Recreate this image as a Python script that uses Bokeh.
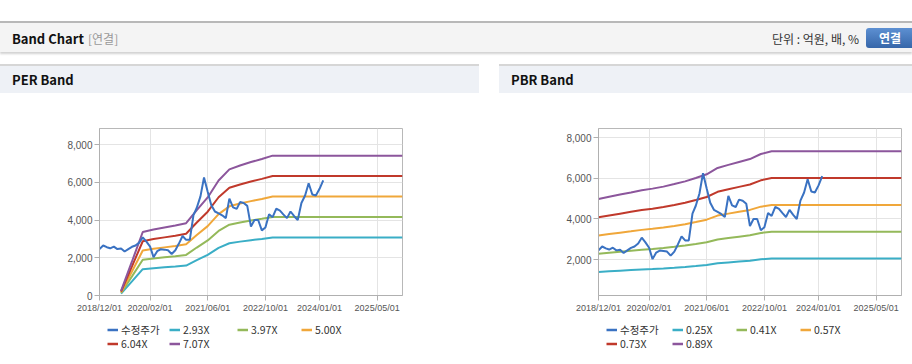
import pandas as pd
from bokeh.plotting import figure
from bokeh.models import (Range1d, FixedTicker, DatetimeTickFormatter, NumeralTickFormatter,
                          Legend, LegendItem, Label, Div)
from bokeh.layouts import column, row
from bokeh.embed import file_html
from bokeh.resources import INLINE

# ---------------- data ----------------
price_dates = pd.date_range("2018-12-01", periods=63, freq="MS")
price = [2457, 2650, 2560, 2500, 2590, 2460, 2490, 2330, 2460, 2580,
         2650, 2800, 3080, 2850, 2590, 2030, 2350, 2450, 2430, 2400,
         2200, 2400, 2750, 3150, 2950, 2950, 4260, 4650, 5250, 6250,
         5500, 4800, 4450, 4350, 4250, 4100, 5130, 4670, 4590, 4950,
         4900, 4750, 3650, 4000, 4000, 3450, 3600, 4300, 4150, 4600,
         4500, 4300, 4100, 4450, 4200, 4000, 4900, 5300, 5950, 5350,
         5300, 5650, 6100]

per_dates = ["2019-06-01", "2019-09-01", "2019-12-01", "2020-03-01", "2020-06-01",
             "2020-09-01", "2020-12-01", "2021-03-01", "2021-06-01", "2021-09-01",
             "2021-12-01", "2022-03-01", "2022-06-01", "2022-09-01", "2022-12-01",
             "2025-12-01"]
per_labels = ["2.93X", "3.97X", "5.00X", "6.04X", "7.07X"]
per_band_1 = [103, 747, 1395, 1450, 1494, 1538, 1588, 1875, 2154, 2526, 2769, 2854, 2930, 2997, 3071, 3071]
per_band_2 = [139, 1012, 1890, 1965, 2025, 2084, 2152, 2541, 2918, 3422, 3752, 3867, 3970, 4061, 4161, 4161]
per_band_3 = [175, 1275, 2380, 2475, 2550, 2625, 2710, 3200, 3675, 4310, 4725, 4870, 5000, 5115, 5240, 5240]
per_band_4 = [211, 1540, 2875, 2990, 3080, 3171, 3274, 3866, 4439, 5206, 5708, 5883, 6040, 6179, 6330, 6330]
per_band_5 = [247, 1803, 3365, 3500, 3606, 3712, 3832, 4525, 5196, 6094, 6681, 6886, 7070, 7233, 7409, 7409]

pbr_dates = ["2018-12-01", "2019-03-01", "2019-06-01", "2019-09-01", "2019-12-01",
             "2020-03-01", "2020-06-01", "2020-09-01", "2020-12-01", "2021-03-01",
             "2021-06-01", "2021-09-01", "2021-12-01", "2022-03-01", "2022-06-01",
             "2022-09-01", "2022-12-01", "2025-12-01"]
pbr_labels = ["0.25X", "0.41X", "0.57X", "0.73X", "0.89X"]
pbr_band_1 = [1400, 1430, 1460, 1490, 1520, 1543, 1570, 1605, 1643, 1690, 1740, 1828, 1870, 1910, 1950, 2020, 2058, 2058]
pbr_band_2 = [2296, 2345, 2394, 2444, 2493, 2530, 2575, 2632, 2694, 2772, 2854, 2997, 3067, 3132, 3198, 3313, 3374, 3374]
pbr_band_3 = [3192, 3260, 3329, 3397, 3466, 3517, 3580, 3659, 3745, 3853, 3967, 4167, 4264, 4355, 4446, 4606, 4691, 4691]
pbr_band_4 = [4088, 4176, 4263, 4351, 4438, 4504, 4584, 4687, 4796, 4935, 5081, 5336, 5460, 5577, 5694, 5898, 6008, 6008]
pbr_band_5 = [4984, 5091, 5198, 5304, 5411, 5491, 5589, 5714, 5847, 6016, 6194, 6506, 6657, 6800, 6942, 7191, 7325, 7325]

price_label = "수정주가"
x_tick_labels = ["2018/12/01", "2020/02/01", "2021/06/01", "2022/10/01", "2024/01/01", "2025/05/01"]
x_start, x_end = "2018-12-01", "2025-12-01"
per_y_ticks = [0, 2000, 4000, 6000, 8000]
pbr_y_ticks = [2000, 4000, 6000, 8000]

COLORS = ["#3a72c2", "#3aaec6", "#94b95a", "#f0a73a", "#c0392b", "#8c569c"]
KFONT = "Noto Sans CJK KR"
TFONT = "Liberation Sans"


def ms(s):
    return pd.Timestamp(s.replace("/", "-")).value // 10**6


def make_fig(width, left, right, y0, y1, yticks, bdates, bands):
    p = figure(width=width, height=223, x_axis_type="datetime",
               x_range=Range1d(pd.Timestamp(x_start), pd.Timestamp(x_end)),
               y_range=Range1d(y0, y1), output_backend="svg", toolbar_location=None,
               min_border_left=left, min_border_right=right,
               min_border_top=35, min_border_bottom=21)
    p.background_fill_color = "white"
    p.border_fill_color = "white"
    p.outline_line_color = "#b8b8b8"
    p.xaxis.ticker = FixedTicker(ticks=[ms(s) for s in x_tick_labels])
    fmt = "%Y/%m/%d"
    p.xaxis.formatter = DatetimeTickFormatter(milliseconds=fmt, seconds=fmt, minsec=fmt,
                                              minutes=fmt, hourmin=fmt, hours=fmt, days=fmt,
                                              months=fmt, years=fmt)
    p.yaxis.ticker = FixedTicker(ticks=yticks)
    p.yaxis.formatter = NumeralTickFormatter(format="0,0")
    for ax in (p.xaxis[0], p.yaxis[0]):
        ax.axis_line_color = "#b0b0b0"
        ax.major_tick_line_color = "#b0b0b0"
        ax.major_tick_out = 5
        ax.major_tick_in = 0
        ax.minor_tick_line_color = None
        ax.major_label_text_font = TFONT
        ax.major_label_text_font_size = "9px"
        ax.major_label_text_color = "#555555"
        ax.major_label_standoff = 2
    p.yaxis.major_label_text_font_size = "10px"
    p.xgrid.grid_line_color = "#e4e4e4"
    p.ygrid.grid_line_color = "#e4e4e4"

    bd = pd.to_datetime(bdates)
    for i, band in enumerate(bands):
        p.line(bd, band, line_color=COLORS[i + 1], line_width=2)
    p.line(price_dates, price, line_color=COLORS[0], line_width=2)

    p.add_layout(Label(x=-16, y=178, x_units="screen", y_units="screen", text="(원)",
                       text_font=KFONT, text_font_size="11px",
                       text_baseline="middle", text_color="#555555"))
    return p


LEG_SHIFT = 100  # observed placement offset of center legends in this layout


def make_legend(width, labels, xs):
    lf = figure(width=width, height=46, x_range=Range1d(0, width), y_range=Range1d(0, 46),
                output_backend="svg", toolbar_location=None,
                x_axis_location=None, y_axis_location=None,
                min_border_left=0, min_border_right=0, min_border_top=0, min_border_bottom=0)
    lf.grid.visible = False
    lf.outline_line_color = None
    lf.background_fill_color = "white"
    lf.border_fill_color = "white"
    names = [price_label] + labels
    row_y = [25, 11]
    for k, name in enumerate(names):
        # legend swatch proxy (kept outside the visible range)
        r = lf.line(x=[-20, -10], y=[-20, -20], line_color=COLORS[k], line_width=2.5)
        leg = Legend(items=[LegendItem(label=name, renderers=[r])],
                     location=(xs[k % 4] - LEG_SHIFT, row_y[k // 4]),
                     glyph_width=11, glyph_height=11, label_height=11, label_width=10,
                     label_standoff=3, padding=0, margin=0, spacing=0,
                     background_fill_alpha=0, border_line_alpha=0,
                     label_text_font=KFONT, label_text_font_size="10.5px",
                     label_text_color="#333333")
        lf.add_layout(leg)
    return lf


per = make_fig(479, 99, 77, 0, 8848, per_y_ticks, per_dates,
               [per_band_1, per_band_2, per_band_3, per_band_4, per_band_5])
pbr = make_fig(413, 99, 11, 244, 8443, pbr_y_ticks, pbr_dates,
               [pbr_band_1, pbr_band_2, pbr_band_3, pbr_band_4, pbr_band_5])
per_leg = make_legend(479, per_labels, [108, 170, 238, 302])
pbr_leg = make_legend(413, pbr_labels, [108, 174, 238, 302])

FF = "font-family:'Noto Sans CJK KR',sans-serif;"
header_html = (
    '<div style="position:relative;width:912px;height:64px;background:#fff;overflow:hidden;' + FF + '">'
    '<div style="position:absolute;left:0;top:21px;width:912px;height:31px;box-sizing:border-box;'
    'background:#f4f4f4;border-top:2px solid #b8b8b8;box-shadow:0 2px 2px rgba(0,0,0,0.18);"></div>'
    '<span style="position:absolute;left:12px;top:30px;line-height:18px;font-size:13px;font-weight:bold;color:#111;">Band Chart</span>'
    '<span style="position:absolute;left:88px;top:30px;line-height:18px;font-size:12px;color:#999;">[연결]</span>'
    '<span style="position:absolute;right:53px;top:30px;line-height:18px;font-size:12px;color:#333;">단위 : 억원, 배, %</span>'
    '<div style="position:absolute;left:866px;top:28px;width:50px;height:20px;border-radius:3px;'
    'background:linear-gradient(#5d90d2,#3666a9);color:#fff;font-size:12px;font-weight:bold;'
    'line-height:20px;text-align:left;text-indent:13px;">연결</div>'
    '</div>'
)
header = Div(text=header_html, width=912, height=64, margin=0)


def title_div(txt, w, left):
    html = ('<div style="position:relative;width:%dpx;height:29px;box-sizing:border-box;'
            'border-top:2px solid #d6d6d6;background:#eef1f6;%s">'
            '<span style="position:absolute;left:%dpx;top:5px;line-height:18px;font-size:13px;'
            'font-weight:bold;color:#111;">%s</span></div>') % (w, FF, left, txt)
    return Div(text=html, width=w, height=29, margin=0)


def bottom_line(w):
    return Div(text='<div style="width:%dpx;height:2px;background:#d0d0d0;"></div>' % w,
               width=w, height=2, margin=0)


gap = Div(text="", width=20, height=300, margin=0)
left_col = column(title_div("PER Band", 479, 12), per, per_leg, bottom_line(479), spacing=0)
right_col = column(title_div("PBR Band", 413, 12), pbr, pbr_leg, bottom_line(413), spacing=0)
root = column(header, row(left_col, gap, right_col, spacing=0), spacing=0)

open("out.html", "w").write(file_html(root, INLINE))
